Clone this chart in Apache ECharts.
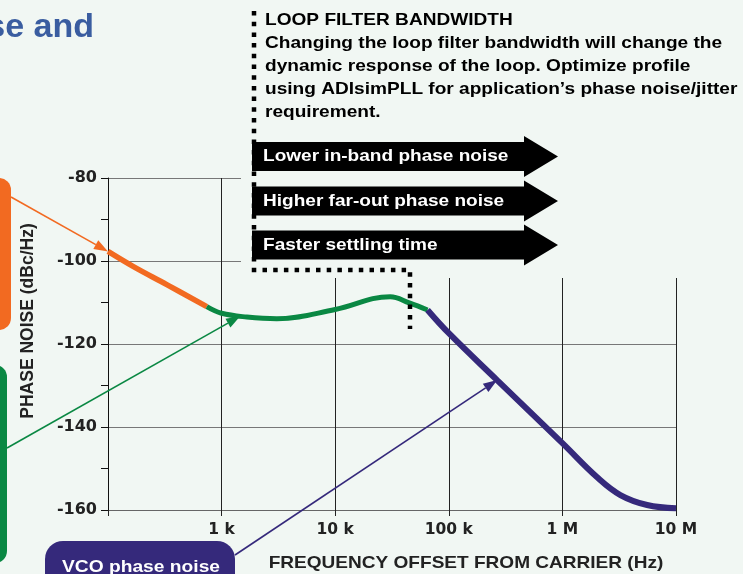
<!DOCTYPE html>
<html>
<head>
<meta charset="utf-8">
<script src="https://cdn.jsdelivr.net/npm/echarts@6/dist/echarts.min.js"></script>
<style>
  html, body { margin: 0; padding: 0; background: #f1f7f3; }
  #chart { width: 743px; height: 574px; }
</style>
</head>
<body>
<div id="chart"></div>
<script>
// axis ticks
const freqTicks = [100, 1000, 10000, 100000, 1000000, 10000000]
const freqLabels = ['', '1 k', '10 k', '100 k', '1 M', '10 M']
const noiseTicks = [-160, -140, -120, -100, -80]

// phase noise curve, [offset Hz, dBc/Hz]
const refNoise = [[100, -97.7], [166, -101.3], [329, -105.7], [741, -111.0]]
const loopNoise = [[741, -111.0], [1000, -112.6], [1667, -113.5], [3060, -113.9], [10000, -111.7],
  [30500, -108.6], [44900, -110.1], [65000, -111.8]]
const vcoNoise = [[65000, -111.8], [100000, -117.4], [266000, -128.7], [1000000, -143.9],
  [2000000, -152.0], [3240000, -156.4], [5570000, -158.8], [10000000, -159.6]]

// where the callout pointers land on the curve
const pointerTargets = [[100, -97.7], [1456, -113.3], [267000, -128.7]]

const noteLines = [
  'LOOP FILTER BANDWIDTH',
  'Changing the loop filter bandwidth will change the',
  'dynamic response of the loop. Optimize profile',
  'using ADIsimPLL for application\u2019s phase noise/jitter',
  'requirement.'
]
const bulletLines = ['Lower in-band phase noise', 'Higher far-out phase noise', 'Faster settling time']

const bg = '#f1f7f3'
const orange = '#f26a21'
const green = '#0a8843'
const purple = '#35297b'
const font = '"Liberation Sans", Arial, sans-serif'

const chart = echarts.init(document.getElementById('chart'), null, { renderer: 'canvas' })

const option = {
  backgroundColor: bg,
  animation: false,
  grid: { left: 108, right: 67, top: 178, bottom: 64 },
  xAxis: {
    type: 'log',
    logBase: 10,
    min: freqTicks[0],
    max: freqTicks[freqTicks.length - 1],
    axisLine: { show: true, lineStyle: { color: '#666', width: 1 } },
    axisTick: { show: true, length: 6, lineStyle: { color: '#222' } },
    splitLine: { show: true, lineStyle: { color: '#222', width: 1 } },
    axisLabel: {
      margin: 12,
      color: '#222',
      fontFamily: '"DejaVu Sans"',
      fontWeight: 'bold',
      fontSize: 15.5,
      formatter: v => {
        const i = Math.round(Math.log10(v)) - 2
        return freqLabels[i] || ''
      }
    }
  },
  yAxis: {
    type: 'value',
    min: noiseTicks[0],
    max: noiseTicks[noiseTicks.length - 1],
    interval: 20,
    axisLine: { show: true, lineStyle: { color: '#111', width: 1 } },
    axisTick: { show: true, length: 7, lineStyle: { color: '#111' } },
    minorTick: { show: true, splitNumber: 2, length: 7, lineStyle: { color: '#111' } },
    splitLine: { show: true, lineStyle: { color: '#777', width: 1 } },
    axisLabel: {
      margin: 11,
      color: '#222',
      fontFamily: '"DejaVu Sans"',
      fontWeight: 'bold',
      fontSize: 16
    }
  },
  series: [
    { name: 'reference', type: 'line', data: refNoise, smooth: 0.4, symbol: 'none',
      lineStyle: { color: orange, width: 5.5 }, z: 3 },
    { name: 'loop', type: 'line', data: loopNoise, smooth: 0.4, symbol: 'none',
      lineStyle: { color: green, width: 5 }, z: 3 },
    { name: 'vco', type: 'line', data: vcoNoise, smooth: 0.4, symbol: 'none',
      lineStyle: { color: purple, width: 6 }, z: 3 }
  ]
}

chart.setOption(option)

// build a pointer line with a filled head
function pointer (from, to, color) {
  const dx = to[0] - from[0]
  const dy = to[1] - from[1]
  const len = Math.sqrt(dx * dx + dy * dy)
  const ux = dx / len
  const uy = dy / len
  const hl = 14
  const hw = 5
  const bx = to[0] - ux * hl
  const by = to[1] - uy * hl
  return [
    { type: 'line', z: 20, shape: { x1: from[0], y1: from[1], x2: bx, y2: by },
      style: { stroke: color, lineWidth: 1.6 } },
    { type: 'polygon', z: 20,
      shape: { points: [[to[0], to[1]], [bx - uy * hw, by + ux * hw], [bx + uy * hw, by - ux * hw]] },
      style: { fill: color } }
  ]
}

const tips = pointerTargets.map(p => chart.convertToPixel({ xAxisIndex: 0, yAxisIndex: 0 }, p))

const graphics = [
  // plain area behind the note, hides the grid there
  { type: 'rect', z: 1, shape: { x: 241, y: 0, width: 502, height: 278 }, style: { fill: bg } },
  { type: 'text', z: 10, x: 94, y: 28, style: { text: 'se and', font: 'bold 34px ' + font,
    fill: '#3a5da0', align: 'right', verticalAlign: 'middle' } },
  // note
  { type: 'text', z: 10, x: 265, y: 9, scaleX: 1.157, style: { text: noteLines.join('\n'),
    font: 'bold 16.5px ' + font, fill: '#000', lineHeight: 23, align: 'left', verticalAlign: 'top' } },
  { type: 'polyline', z: 12, shape: { points: [[254, 11], [254, 270], [410, 270], [410, 329]] },
    style: { stroke: '#000', lineWidth: 4.5, lineDash: [4.5, 6.2], fill: null } },
  // y / x titles
  { type: 'text', z: 10, x: 28, y: 321, rotation: Math.PI / 2, style: { text: 'PHASE NOISE (dBc/Hz)',
    font: 'bold 17.5px ' + font, fill: '#222', align: 'center', verticalAlign: 'middle' } },
  { type: 'text', z: 10, x: 466, y: 563, scaleX: 1.12, style: { text: 'FREQUENCY OFFSET FROM CARRIER (Hz)',
    font: 'bold 17px ' + font, fill: '#222', align: 'center', verticalAlign: 'middle' } },
  // callout boxes on the left
  { type: 'rect', z: 10, shape: { x: -20, y: 178, width: 31, height: 152, r: 12 }, style: { fill: orange } },
  { type: 'rect', z: 10, shape: { x: -20, y: 365, width: 27, height: 198, r: 12 }, style: { fill: green } },
  { type: 'rect', z: 10, shape: { x: 45, y: 541, width: 190, height: 60, r: 18 }, style: { fill: purple } },
  { type: 'text', z: 11, x: 141, y: 567, scaleX: 1.13, style: { text: 'VCO phase noise',
    font: 'bold 17px ' + font, fill: '#fff', align: 'center', verticalAlign: 'middle' } }
]

const arrowCenters = [156.5, 201, 245]
bulletLines.forEach((t, i) => {
  const c = arrowCenters[i]
  graphics.push({ type: 'polygon', z: 10, shape: { points: [
    [252, c - 14.5], [524, c - 14.5], [524, c - 20.5], [558, c], [524, c + 20.5], [524, c + 14.5], [252, c + 14.5]
  ] }, style: { fill: '#000' } })
  graphics.push({ type: 'text', z: 11, x: 263, y: c, scaleX: 1.12, style: { text: t,
    font: 'bold 17px ' + font, fill: '#fff', align: 'left', verticalAlign: 'middle' } })
})

const starts = [[11, 197], [7, 448], [235, 555]]
const colors = [orange, green, purple]
tips.forEach((tp, i) => { graphics.push(...pointer(starts[i], tp, colors[i])) })

chart.setOption({ graphic: graphics })
</script>
</body>
</html>
